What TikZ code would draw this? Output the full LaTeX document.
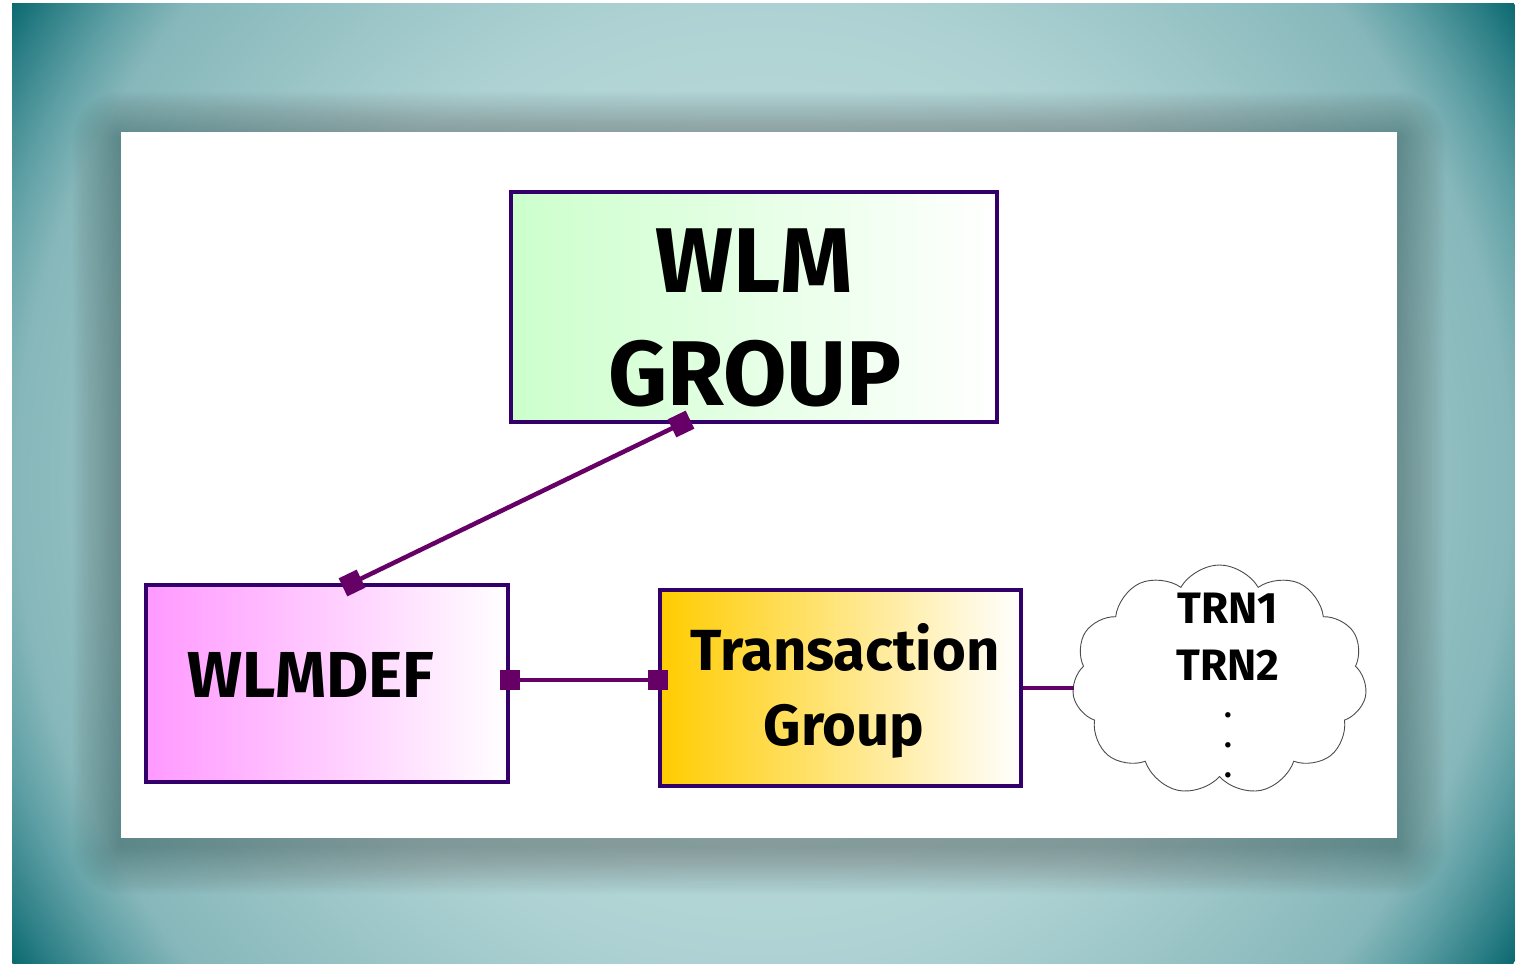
\documentclass[tikz,border=0pt]{standalone}
\usepackage{fontspec}
\setmainfont{Fira Sans}
\usetikzlibrary{shapes.symbols,arrows.meta,calc}
\definecolor{bgA}{HTML}{C9E2E3}
\definecolor{bgB}{HTML}{AED2D3}
\definecolor{bgC}{HTML}{86B7BA}
\definecolor{bgD}{HTML}{5D9FA4}
\definecolor{bgE}{HTML}{2E8087}
\definecolor{bgF}{HTML}{0C6970}
\definecolor{boxborder}{HTML}{33006B}
\definecolor{connc}{HTML}{660066}
\definecolor{greenL}{HTML}{CCFFCC}
\definecolor{pinkL}{HTML}{FF99FF}
\definecolor{goldL}{HTML}{FFCC00}
\pgfdeclareradialshading{bgshade}{\pgfpoint{0bp}{0bp}}{color(0bp)=(bgA); color(13.5bp)=(bgB); color(21bp)=(bgC); color(22.5bp)=(bgD); color(24bp)=(bgE); color(25bp)=(bgF); color(50bp)=(bgF)}
\tikzset{
  box/.style={draw=boxborder, line width=4pt, inner sep=0pt},
  conn/.style={draw=connc, line width=4.5pt,
    {Square[length=20pt,width=20pt]}-{Square[length=20pt,width=20pt]},
    shorten <=-10pt, shorten >=-10pt},
  plain/.style={draw=connc, line width=4.5pt},
  big/.style={anchor=base, font=\bfseries\fontsize{92}{92}\selectfont},
  mid/.style={anchor=base, font=\bfseries\fontsize{58}{58}\selectfont},
  small/.style={anchor=base, font=\bfseries\fontsize{44}{44}\selectfont},
  dotlbl/.style={anchor=base, font=\bfseries\fontsize{30}{30}\selectfont}
}
\begin{document}
\begin{tikzpicture}[x=1pt,y=-1pt]
\useasboundingbox (0,0) rectangle (1515,965);
\fill[white] (0,0) rectangle (1515,965);
\begin{scope}
  \clip (12,4) rectangle (1515,963);
  \shade[shading=bgshade] (763,483) circle [radius=891];
  \foreach \i in {1,...,22}{
    \fill[black, opacity=0.012, rounded corners=\i*2.2pt]
      (121-\i*2.2, 140-\i*2.2) rectangle (1397+\i*2.2, 846+\i*2.2);
  }
\end{scope}
\fill[white] (121,132) rectangle (1397,838);

% boxes
\node[box, left color=greenL, right color=white, minimum width=486pt, minimum height=230pt] (wlm) at (754,307) {};
\node[box, left color=pinkL, right color=white, minimum width=362pt, minimum height=197pt] (wlmdef) at (327,683.5) {};
\node[box, left color=goldL, right color=white, minimum width=361pt, minimum height=196pt] (tg) at (840.5,688) {};
\node[cloud, cloud puffs=11, cloud puff arc=120, cloud ignores aspect, minimum width=295pt, minimum height=230pt, draw=black!70, line width=0.9pt, fill=white, inner sep=0pt] (cloud) at (1219.5,680) {};

% texts
\node[big] (t1) at (754,293) {WLM};
\node[big] (t2) at (755,405) {GROUP};
\node[anchor=base, font=\bfseries\fontsize{65}{65}\selectfont] (t3) at (311,697) {WLMDEF};
\node[mid] (t4) at (845,670) {Transaction};
\node[mid] (t5) at (844,745) {Group};
\node[small] (t6) at (1228,623) {TRN1};
\node[small] (t7) at (1228,680) {TRN2};
\node[dotlbl] (d1) at (1228,717) {.};
\node[dotlbl] (d2) at (1228,747) {.};
\node[dotlbl] (d3) at (1228,777) {.};

% connectors
\coordinate (c1) at ($(wlmdef.north)+(25,0)$);
\coordinate (c2) at ($(wlm.south)+(-73,0)$);
\draw[conn] (c1) -- (c2);
\coordinate (h1) at ($(wlmdef.east)+(0,-3.5)$);
\draw[conn] (h1) -- (h1 -| tg.west);
\draw[plain] (tg.east) -- (tg.east -| cloud.west);
\end{tikzpicture}
\end{document}
